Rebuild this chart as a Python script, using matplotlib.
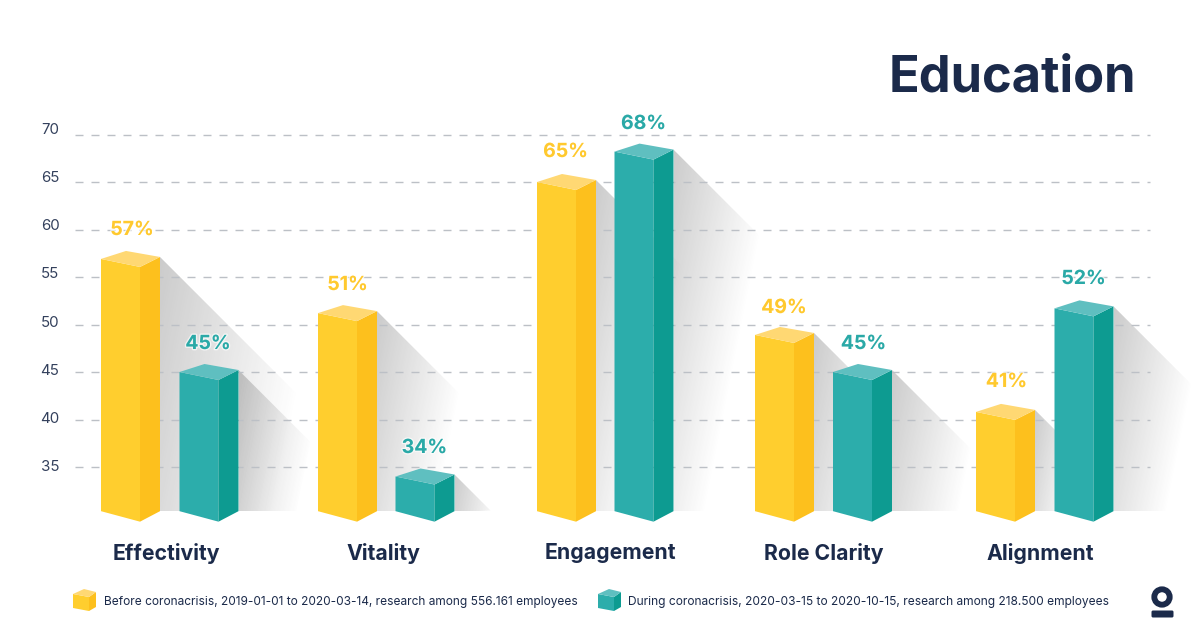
# -*- coding: utf-8 -*-
import numpy as np
import matplotlib
matplotlib.use("Agg")
import matplotlib.pyplot as plt
import matplotlib.patheffects as pe
from matplotlib.patches import Polygon, Circle, FancyBboxPatch

plt.rcParams['font.family'] = ['Inter', 'DejaVu Sans']

# data
categories = ["Effectivity", "Vitality", "Engagement", "Role Clarity", "Alignment"]
before = [56.9, 51.2, 65.0, 48.9, 40.8]
during = [45.0, 34.0, 68.2, 45.0, 51.7]
before_labels = ["57%", "51%", "65%", "49%", "41%"]
during_labels = ["45%", "34%", "68%", "45%", "52%"]
y_ticks = [35, 40, 45, 50, 55, 60, 65, 70]
legend_labels = [
    "Before coronacrisis, 2019-01-01 to 2020-03-14, research among 556.161 employees",
    "During coronacrisis, 2020-03-15 to 2020-10-15, research among 218.500 employees",
]

# layout in pixels
W, H = 1201, 631
PX = 9.5              # pixels per value unit
Y70 = 134.5           # pixel row of the 70 gridline
BASE = 30.35          # value where the bars stand
before_x = [101, 318, 537, 755, 976]
during_x = [179.5, 395.5, 614.5, 833, 1054.5]
label_x = [166, 383, 610.5, 823.5, 1040.5]
before_label_x = [132, 347.5, 565.5, 784, 1006.5]
during_label_x = [208, 424.5, 643.5, 863.5, 1083.5]
before_label_row = [230, 285, 152, 308, 382]
during_label_row = [344, 448, 124, 344, 279]
before_shadow = [150, 84, 88, 80, 40]
during_shadow = [72, 36, 88, 80, 78]

NAVY = "#1b2a4a"
YELLOW = dict(front="#ffce2e", side="#fdc01d", top="#ffd873", text="#ffc92e")
TEAL = dict(front="#2cadab", side="#0d9b91", top="#5fbfc0", text="#2aa9a7")


def v(px):
    """pixel offset -> value units"""
    return px / PX


def row(p):
    """pixel row -> value"""
    return 70 - (p - Y70) / PX


fig = plt.figure(figsize=(W / 100, H / 100), dpi=100)
ax = fig.add_axes([0, 0, 1, 1])
ax.axis("off")
xlim = (0, W)
ylim = (row(H), row(0))
ax.set_xlim(xlim)
ax.set_ylim(ylim)


def draw_shadow(x, value, length):
    xr = x + 59
    top = value + v(2)
    bottom = BASE
    drop = min(length, (top - bottom) * PX)
    poly = Polygon([(xr, top), (xr + length, top - v(drop)),
                    (xr + length - 14, bottom), (xr, bottom)],
                   closed=True, transform=ax.transData, fc="none", ec="none")
    ax.add_patch(poly)
    gx, gy = np.meshgrid(np.linspace(0, 1, 200), np.linspace(0, 1, 200))
    # fades to the right and a bit downwards
    height_px = (top - bottom) * PX
    t = (gx * (length + 12) + gy * height_px * 0.2) / (length + 16)
    img = np.zeros((200, 200, 4))
    img[..., 0:3] = 0.25
    img[..., 3] = 0.27 * np.clip(1 - t, 0, 1)
    im = ax.imshow(img, extent=(xr, xr + length + 12, bottom, top), origin="upper",
                   aspect="auto", zorder=1, interpolation="bilinear")
    im.set_clip_path(poly)


def draw_bar(x, value, colors):
    yt = value
    xm, xr = x + 39, x + 59
    ax.add_patch(Polygon([(x, yt), (xm, yt - v(8)), (xm, BASE - v(10.5)), (x, BASE)],
                         fc=colors["front"], ec="none", zorder=3))
    ax.add_patch(Polygon([(xm, yt - v(8)), (xr, yt + v(2)), (xr, BASE), (xm, BASE - v(10.5))],
                         fc=colors["side"], ec="none", zorder=3))
    ax.add_patch(Polygon([(x, yt), (x + 25, yt + v(8)), (xr, yt + v(2)), (xm, yt - v(8))],
                         fc=colors["top"], ec="none", zorder=3))


def draw_cube(x, y_px, colors):
    # small legend cube, y_px is the pixel row of its top corner
    ax.add_patch(Polygon([(x, row(y_px + 5)), (x + 16, row(y_px + 8)),
                          (x + 16, row(y_px + 22)), (x, row(y_px + 19))],
                         fc=colors["front"], ec="none", zorder=3))
    ax.add_patch(Polygon([(x + 16, row(y_px + 8)), (x + 23, row(y_px + 3)),
                          (x + 23, row(y_px + 18)), (x + 16, row(y_px + 22))],
                         fc=colors["side"], ec="none", zorder=3))
    ax.add_patch(Polygon([(x, row(y_px + 5)), (x + 11, row(y_px)),
                          (x + 23, row(y_px + 3)), (x + 16, row(y_px + 8))],
                         fc=colors["top"], ec="none", zorder=3))


# gridlines, tick labels sit a little above them and drift towards the bottom
for tick in y_ticks:
    ax.plot([75, 1150], [tick, tick], color="#bcc0c6", lw=1.0, zorder=2,
            dashes=(5.76, 5.76))
    ax.text(50, row(130 + (70 - tick) * 9.63), str(tick), ha="center", va="center",
            fontsize=10.8, color="#33405c", zorder=4)

# shadows first, bars on top
for i in range(len(categories)):
    draw_shadow(before_x[i], before[i], before_shadow[i])
    draw_shadow(during_x[i], during[i], during_shadow[i])

halo = [pe.withStroke(linewidth=2, foreground="#ffffffa0")]
for i, cat in enumerate(categories):
    draw_bar(before_x[i], before[i], YELLOW)
    draw_bar(during_x[i], during[i], TEAL)
    ax.text(before_label_x[i], row(before_label_row[i]), before_labels[i], ha="center", va="center",
            fontsize=14, fontweight="bold", color=YELLOW["text"], zorder=4, path_effects=halo)
    ax.text(during_label_x[i], row(during_label_row[i]), during_labels[i], ha="center", va="center",
            fontsize=14, fontweight="bold", color=TEAL["text"], zorder=4, path_effects=halo)
    ax.text(label_x[i], row(553), cat, ha="center", va="center",
            fontsize=15.3, fontweight="bold", color=NAVY, zorder=4)

# title
ax.text(1136, row(78), "Education", ha="right", va="center",
        fontsize=36.4, fontweight="bold", color=NAVY)

# legend
draw_cube(73, 589, YELLOW)
draw_cube(598, 589, TEAL)
ax.text(104, row(601.5), legend_labels[0], ha="left", va="center", fontsize=8.57, color=NAVY)
ax.text(628, row(601.5), legend_labels[1], ha="left", va="center", fontsize=8.62, color=NAVY)

# logo, ring and bar in figure pixels
fig.patches.append(Circle((1162, H - 597), 7.7, transform=None, fc="none", ec=NAVY, lw=4.2))
fig.patches.append(FancyBboxPatch((1152, H - 617), 21, 6, boxstyle="round,pad=0.5,rounding_size=1.5",
                                  transform=None, fc=NAVY, ec="none"))

ax.set_xlim(xlim)
ax.set_ylim(ylim)
fig.savefig("out.png", dpi=100, facecolor="white")
